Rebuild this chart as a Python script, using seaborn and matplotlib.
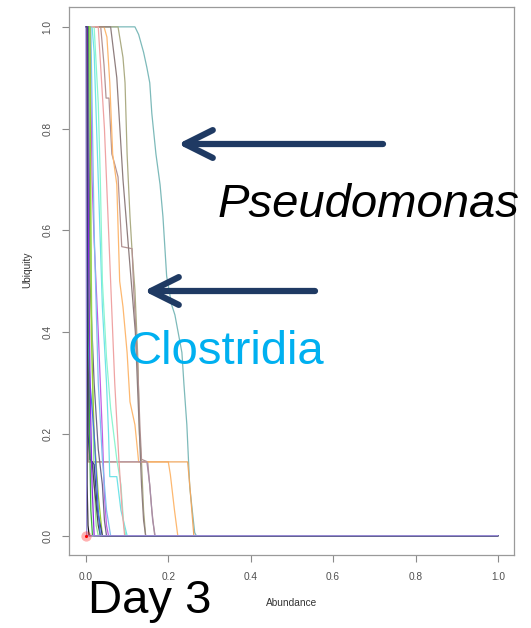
import matplotlib
matplotlib.use("Agg")
import matplotlib.pyplot as plt
import pandas as pd
import seaborn as sns
from matplotlib.patches import FancyArrowPatch, ArrowStyle

sns.set_theme(style="white")
plt.rcParams['font.family'] = ['Liberation Sans', 'DejaVu Sans']

# ---------------- data (abundance, ubiquity) per taxon curve ----------------
teal_abund = [0, 0.119, 0.128, 0.140, 0.148, 0.155, 0.160, 0.170, 0.180, 0.187, 0.196, 0.208, 0.216, 0.233, 0.238, 0.245, 0.252, 0.264, 0.268, 1.0]
teal_ubiq = [1, 1.0, 0.985, 0.950, 0.920, 0.890, 0.830, 0.750, 0.690, 0.627, 0.510, 0.454, 0.434, 0.360, 0.297, 0.218, 0.096, 0.006, 0.0, 0.0]

olive_abund = [0, 0.078, 0.090, 0.095, 0.100, 0.107, 0.112, 0.119, 0.126, 0.130, 0.135, 0.140, 0.145, 1.0]
olive_ubiq = [1, 1.0, 0.940, 0.890, 0.750, 0.627, 0.560, 0.483, 0.350, 0.200, 0.145, 0.050, 0.0, 0.0]

brown_abund = [0, 0.036, 0.044, 0.049, 0.056, 0.063, 0.070, 0.078, 0.087, 0.112, 0.116, 0.125, 0.131, 0.135, 0.150, 0.160, 0.167, 1.0]
brown_ubiq = [1, 1.0, 0.925, 0.860, 0.860, 0.750, 0.730, 0.705, 0.568, 0.564, 0.483, 0.350, 0.218, 0.150, 0.145, 0.050, 0.0, 0.0]

orange_abund = [0, 0.044, 0.051, 0.058, 0.065, 0.075, 0.082, 0.090, 0.100, 0.107, 0.119, 0.125, 0.128, 0.200, 0.205, 0.215, 0.223, 1.0]
orange_ubiq = [1, 1.0, 0.980, 0.890, 0.750, 0.690, 0.500, 0.450, 0.360, 0.263, 0.218, 0.170, 0.145, 0.145, 0.120, 0.050, 0.0, 0.0]

orange2_abund = [0, 0.003, 0.005, 0.247, 0.252, 0.258, 0.262, 1.0]
orange2_ubiq = [1, 1.0, 0.145, 0.145, 0.100, 0.040, 0.0, 0.0]

graybrown_abund = [0, 0.060, 0.075, 0.090, 0.110, 0.120, 0.125, 0.130, 0.135, 0.140, 0.145, 1.0]
graybrown_ubiq = [1, 1.0, 0.900, 0.700, 0.500, 0.400, 0.300, 0.200, 0.100, 0.030, 0.0, 0.0]

mauve_abund = [0, 0.005, 0.007, 0.148, 0.155, 0.162, 0.168, 1.0]
mauve_ubiq = [1, 1.0, 0.145, 0.145, 0.100, 0.030, 0.0, 0.0]

cyan_abund = [0, 0.015, 0.020, 0.030, 0.040, 0.050, 0.055, 0.058, 0.075, 0.085, 0.100, 1.0]
cyan_ubiq = [1, 1.0, 0.950, 0.700, 0.450, 0.300, 0.200, 0.116, 0.116, 0.050, 0.0, 0.0]

aqua_abund = [0, 0.020, 0.030, 0.035, 0.040, 0.050, 0.060, 0.075, 0.085, 0.092, 0.097, 1.0]
aqua_ubiq = [1, 1.0, 0.850, 0.700, 0.500, 0.350, 0.250, 0.150, 0.100, 0.020, 0.0, 0.0]

pink_abund = [0, 0.030, 0.045, 0.060, 0.070, 0.080, 0.088, 0.094, 1.0]
pink_ubiq = [1, 1.0, 0.800, 0.500, 0.300, 0.150, 0.050, 0.0, 0.0]

violet_abund = [0, 0.010, 0.015, 0.020, 0.030, 0.040, 0.045, 0.050, 0.055, 1.0]
violet_ubiq = [1, 1.0, 0.700, 0.580, 0.400, 0.200, 0.080, 0.020, 0.0, 0.0]

lightblue_abund = [0, 0.012, 0.020, 0.030, 0.040, 0.050, 0.060, 1.0]
lightblue_ubiq = [1, 1.0, 0.600, 0.300, 0.150, 0.050, 0.0, 0.0]

grayviolet_abund = [0, 0.006, 0.010, 0.020, 0.030, 0.040, 0.045, 0.050, 1.0]
grayviolet_ubiq = [1, 1.0, 0.500, 0.300, 0.170, 0.100, 0.030, 0.0, 0.0]

lightgreen_abund = [0, 0.008, 0.012, 0.016, 0.020, 0.025, 0.030, 1.0]
lightgreen_ubiq = [1, 1.0, 0.600, 0.300, 0.100, 0.020, 0.0, 0.0]

yellowgreen_abund = [0, 0.010, 0.013, 0.020, 0.030, 0.040, 1.0]
yellowgreen_ubiq = [1, 1.0, 0.400, 0.200, 0.080, 0.0, 0.0]

darkgray_abund = [0, 0.005, 0.006, 0.010, 0.015, 0.020, 0.030, 0.035, 1.0]
darkgray_ubiq = [1, 1.0, 0.300, 0.150, 0.145, 0.100, 0.020, 0.0, 0.0]

navy_abund = [0, 0.004, 0.005, 0.010, 0.020, 0.028, 0.040, 1.0]
navy_ubiq = [1, 1.0, 0.200, 0.150, 0.140, 0.050, 0.0, 0.0]

blue_abund = [0, 0.003, 0.004, 0.010, 0.020, 0.030, 0.035, 1.0]
blue_ubiq = [1, 1.0, 0.400, 0.300, 0.200, 0.050, 0.0, 0.0]

green_abund = [0, 0.006, 0.007, 0.009, 0.012, 0.016, 1.0]
green_ubiq = [1, 1.0, 0.500, 0.200, 0.050, 0.0, 0.0]

purple_abund = [0, 0.004, 0.006, 0.010, 0.015, 0.020, 1.0]
purple_ubiq = [1, 1.0, 0.600, 0.300, 0.100, 0.0, 0.0]

black_abund = [0, 0.002, 0.003, 0.005, 0.008, 1.0]
black_ubiq = [1, 1.0, 0.100, 0.020, 0.0, 0.0]

lavender_abund = [0, 0.001, 0.002, 1.0]
lavender_ubiq = [1, 0.5, 0.0, 0.0]

curve_names = ["teal", "olive", "brown", "orange", "orange2", "graybrown", "mauve",
               "cyan", "aqua", "pink", "violet", "lightblue", "grayviolet",
               "lightgreen", "yellowgreen", "darkgray", "navy", "blue", "green",
               "purple", "black", "lavender"]
curve_colors = ["#7DBABA", "#ACAC84", "#B39393", "#FDB870", "#F0A860", "#8F7E7E",
                "#A88EA8", "#6FE3E8", "#8CF5CF", "#EFA3A3", "#C25BE3", "#7FBFEF",
                "#6F6789", "#93E68F", "#9ACD32", "#4A4A4A", "#3A3A8C", "#4A6FE0",
                "#3DB03D", "#8A2BE2", "#1A1A1A", "#9C8FDC"]

series = {
    "teal": (teal_abund, teal_ubiq), "olive": (olive_abund, olive_ubiq),
    "brown": (brown_abund, brown_ubiq), "orange": (orange_abund, orange_ubiq),
    "orange2": (orange2_abund, orange2_ubiq), "graybrown": (graybrown_abund, graybrown_ubiq),
    "mauve": (mauve_abund, mauve_ubiq), "cyan": (cyan_abund, cyan_ubiq),
    "aqua": (aqua_abund, aqua_ubiq), "pink": (pink_abund, pink_ubiq),
    "violet": (violet_abund, violet_ubiq), "lightblue": (lightblue_abund, lightblue_ubiq),
    "grayviolet": (grayviolet_abund, grayviolet_ubiq), "lightgreen": (lightgreen_abund, lightgreen_ubiq),
    "yellowgreen": (yellowgreen_abund, yellowgreen_ubiq), "darkgray": (darkgray_abund, darkgray_ubiq),
    "navy": (navy_abund, navy_ubiq), "blue": (blue_abund, blue_ubiq),
    "green": (green_abund, green_ubiq), "purple": (purple_abund, purple_ubiq),
    "black": (black_abund, black_ubiq), "lavender": (lavender_abund, lavender_ubiq),
}

x_ticks = [0.0, 0.2, 0.4, 0.6, 0.8, 1.0]
y_ticks = [0.0, 0.2, 0.4, 0.6, 0.8, 1.0]

# ---------------- build table ----------------
rows = []
for name in curve_names:
    xs, ys = series[name]
    for i, (x, y) in enumerate(zip(xs, ys)):
        rows.append({"curve": name, "order": i, "Abundance": x, "Ubiquity": y})
df = pd.DataFrame(rows)
palette = dict(zip(curve_names, curve_colors))

W, H = 531, 628
fig = plt.figure(figsize=(W / 100, H / 100), dpi=100)
ax = fig.add_axes([69 / W, (H - 555) / H, (514 - 69) / W, (555 - 7) / H])

sns.lineplot(data=df, x="Abundance", y="Ubiquity", hue="curve", units="curve",
             hue_order=curve_names, estimator=None, sort=False, palette=palette,
             linewidth=0.9, legend=False, ax=ax)

# red point at origin
ax.scatter([0], [0], s=55, color="red", alpha=0.3, zorder=5, linewidths=0)
ax.scatter([0], [0], s=5, color="red", zorder=6, linewidths=0)

ax.set_xlim(-0.041, 1.039)
ax.set_ylim(-0.038, 1.039)
ax.set_xticks(x_ticks)
ax.set_xticklabels([f"{v:.1f}" for v in x_ticks])
ax.set_yticks(y_ticks)
ax.set_yticklabels([f"{v:.1f}" for v in y_ticks], rotation=90, va="center")
ax.tick_params(axis="both", direction="out", length=5, width=0.8, color="#8a8a8a",
               labelsize=7.3, labelcolor="#505050", pad=7, bottom=True, left=True)
for sp in ax.spines.values():
    sp.set_color("#9a9a9a")
    sp.set_linewidth(0.9)
ax.set_xlabel("Abundance", fontsize=7.3, color="#333333")
ax.set_ylabel("Ubiquity", fontsize=7.3, color="#333333")
ax.xaxis.set_label_coords(0.5, (555 - 598) / 548)
ax.yaxis.set_label_coords((32 - 69) / 445, (555 - 270) / 548)

# annotations
def px(x, y):
    return (x / W, 1 - y / H)

fig.text(*px(218, 217), "Pseudomonas", fontsize=34, style="italic", color="black", va="baseline", ha="left")
fig.text(*px(128, 364), "Clostridia", fontsize=34, color="#00B0F0", va="baseline", ha="left")
fig.text(*px(88, 613), "Day 3", fontsize=34, color="black", va="baseline", ha="left")

arrow_col = "#1F3A63"
for (x0, y0, x1, y1) in [(383, 144, 178, 144), (315, 291, 144, 291)]:
    a = FancyArrowPatch(px(x0, y0), px(x1, y1), transform=fig.transFigure,
                        arrowstyle=ArrowStyle("->", head_length=1.0, head_width=0.5),
                        mutation_scale=20, linewidth=4.5, color=arrow_col,
                        shrinkA=0, shrinkB=0, capstyle="round", joinstyle="round")
    fig.add_artist(a)

fig.savefig("out.png", dpi=100)
